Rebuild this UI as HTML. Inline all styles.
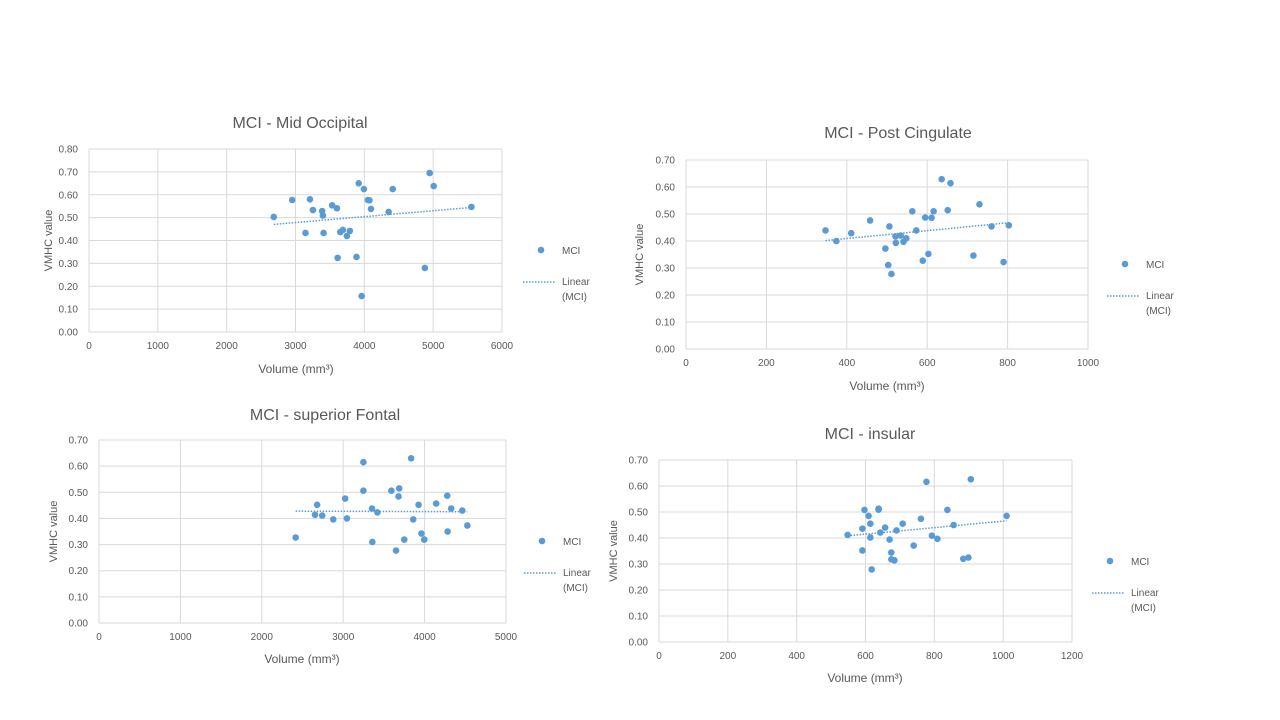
<!DOCTYPE html>
<html><head><meta charset="utf-8"><style>
html,body{margin:0;padding:0;background:#fff;}
svg{display:block;font-family:"Liberation Sans",sans-serif;}
</style></head><body>
<svg id="s" width="1280" height="720" viewBox="0 0 1280 720" xmlns="http://www.w3.org/2000/svg"></svg>
<script>
const c1x=[2684,2952,3145,3210,3253,3387,3398,3408,3532,3602,3612,3650,3688,3747,3790,3886,3918,3961,3994,4053,4074,4096,4353,4412,4879,4949,5008,5556];
const c1y=[0.503,0.577,0.433,0.580,0.533,0.529,0.509,0.433,0.554,0.541,0.324,0.437,0.446,0.420,0.442,0.328,0.650,0.157,0.625,0.577,0.576,0.538,0.525,0.625,0.280,0.695,0.638,0.547];
const c2x=[347,374,411,458,496,506,503,511,521,522,534,541,548,563,573,589,595,603,611,616,636,651,658,715,730,760,790,803];
const c2y=[0.439,0.400,0.429,0.476,0.372,0.454,0.311,0.278,0.417,0.393,0.420,0.397,0.410,0.510,0.439,0.327,0.487,0.352,0.486,0.510,0.629,0.514,0.614,0.346,0.536,0.454,0.322,0.458];
const c3x=[2416,2654,2680,2742,2878,3024,3046,3248,3248,3354,3358,3420,3592,3649,3680,3688,3750,3834,3860,3926,3961,3996,4142,4278,4283,4327,4463,4525];
const c3y=[0.327,0.414,0.452,0.411,0.396,0.476,0.400,0.615,0.506,0.438,0.310,0.423,0.506,0.277,0.484,0.515,0.319,0.630,0.396,0.452,0.342,0.319,0.457,0.487,0.350,0.438,0.430,0.373];
const c4x=[548,591,591,597,609,614,614,618,638,638,643,657,670,675,675,684,690,708,740,761,777,793,809,838,856,884,899,906,1010];
const c4y=[0.412,0.436,0.352,0.508,0.485,0.455,0.402,0.279,0.513,0.509,0.421,0.440,0.394,0.344,0.318,0.314,0.429,0.455,0.371,0.474,0.616,0.409,0.397,0.508,0.450,0.320,0.325,0.626,0.485];
const yTicks8=[0,0.1,0.2,0.3,0.4,0.5,0.6,0.7,0.8];
const yTicks7=[0,0.1,0.2,0.3,0.4,0.5,0.6,0.7];
const xT1=[0,1000,2000,3000,4000,5000,6000];
const xT2=[0,200,400,600,800,1000];
const xT3=[0,1000,2000,3000,4000,5000];
const xT4=[0,200,400,600,800,1000,1200];
const titles=["MCI - Mid Occipital","MCI - Post Cingulate","MCI - superior Fontal","MCI - insular"];

const S=document.getElementById('s');const NS="http://www.w3.org/2000/svg";
function mk(t,a,txt){const e=document.createElementNS(NS,t);for(const k in a)e.setAttribute(k,a[k]);if(txt!==undefined)e.textContent=txt;S.appendChild(e);return e;}
const charts=[
 {id:'mid-occipital',xs:c1x,ys:c1y,xt:xT1,yt:yTicks8,L:89,R:502,T:149,B:332,tx:300,ty:128,ax:296,ay:373,vx:52,lx:541,ly:250},
 {id:'post-cingulate',xs:c2x,ys:c2y,xt:xT2,yt:yTicks7,L:686,R:1088,T:160,B:349,tx:898,ty:138,ax:887,ay:390,vx:643,lx:1125,ly:264},
 {id:'superior-frontal',xs:c3x,ys:c3y,xt:xT3,yt:yTicks7,L:99,R:506,T:440,B:623,tx:325,ty:420,ax:302,ay:663,vx:57,lx:542,ly:541},
 {id:'insular',xs:c4x,ys:c4y,xt:xT4,yt:yTicks7,L:659,R:1072,T:460,B:642,tx:870,ty:439,ax:865,ay:682,vx:617,lx:1110,ly:561}
];
charts.forEach((c,i)=>{
 const xmax=c.xt[c.xt.length-1],ymax=c.yt[c.yt.length-1];
 const X=v=>c.L+(c.R-c.L)*v/xmax, Y=v=>c.B-(c.B-c.T)*v/ymax;
 let e;
 e=mk('text',{x:c.tx,y:c.ty,'text-anchor':'middle','font-size':16,fill:'#595959'},titles[i]);
 
 c.yt.forEach(t=>{
  e=mk('line',{x1:c.L,x2:c.R,y1:Y(t),y2:Y(t),stroke:'#d9d9d9','stroke-width':1});
  
  e=mk('text',{x:c.L-11,y:Y(t)+3.5,'text-anchor':'end','font-size':10,fill:'#595959'},t.toFixed(2));
  
 });
 c.xt.forEach(t=>{
  e=mk('line',{x1:X(t),x2:X(t),y1:c.T,y2:c.B,stroke:'#d9d9d9','stroke-width':1});
  
  e=mk('text',{x:X(t),y:c.B+17,'text-anchor':'middle','font-size':10,fill:'#595959'},String(t));
  
 });
 e=mk('text',{x:c.ax,y:c.ay,'text-anchor':'middle','font-size':12,fill:'#595959'},'Volume (mm³)');
 
 const cy=(c.T+c.B)/2;
 e=mk('text',{x:c.vx,y:cy,'text-anchor':'middle','font-size':11,fill:'#595959',transform:`rotate(-90 ${c.vx} ${cy})`},'VMHC value');
 
 const n=c.xs.length;let sx=0,sy=0,sxx=0,sxy=0;
 for(let k=0;k<n;k++){sx+=c.xs[k];sy+=c.ys[k];sxx+=c.xs[k]*c.xs[k];sxy+=c.xs[k]*c.ys[k];}
 const b=(n*sxy-sx*sy)/(n*sxx-sx*sx),a=(sy-b*sx)/n;
 const x0=Math.min(...c.xs),x1=Math.max(...c.xs);
 c.xs.forEach((xv,k)=>{
  e=mk('circle',{cx:X(xv),cy:Y(c.ys[k]),r:3.3,fill:'#5b9bd5'});
  
 });
 e=mk('line',{x1:X(x0),y1:Y(a+b*x0),x2:X(x1),y2:Y(a+b*x1),stroke:'#5b9bd5','stroke-width':1.5,'stroke-dasharray':'1.5 1.5'});
 
 e=mk('circle',{cx:c.lx,cy:c.ly,r:3.3,fill:'#5b9bd5'});
 
 e=mk('text',{x:c.lx+21,y:c.ly+4,'font-size':10,fill:'#595959'},'MCI');
 
 e=mk('line',{x1:c.lx-18,x2:c.lx+15,y1:c.ly+32,y2:c.ly+32,stroke:'#5b9bd5','stroke-width':1.5,'stroke-dasharray':'1.5 1.5'});
 
 e=mk('text',{x:c.lx+21,y:c.ly+35,'font-size':10,fill:'#595959'},'Linear');
 
 e=mk('text',{x:c.lx+21,y:c.ly+50,'font-size':10,fill:'#595959'},'(MCI)');
 
});
</script>
</body></html>
